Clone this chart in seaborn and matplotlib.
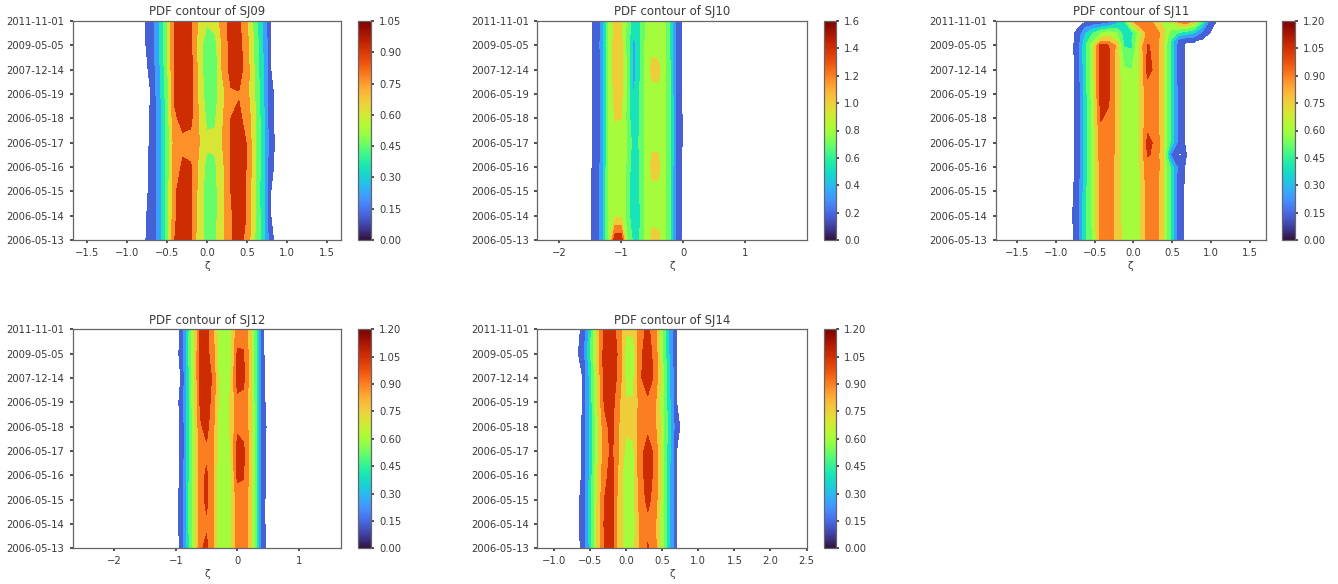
import numpy as np
import matplotlib
matplotlib.use('Agg')
import matplotlib.pyplot as plt
import seaborn as sns
from matplotlib.cm import ScalarMappable
from matplotlib.colors import Normalize

# --- 1. Values ---

date_labels = ['2006-05-13', '2006-05-14', '2006-05-15', '2006-05-16', '2006-05-17',
               '2006-05-18', '2006-05-19', '2007-12-14', '2009-05-05', '2011-11-01']
date_pos = [0, 1, 2, 3, 4, 5, 6, 7, 8, 9]

zeta_09 = [-0.8, -0.7, -0.6, -0.5, -0.4, -0.3, -0.2, -0.1, 0.0, 0.1, 0.2, 0.3, 0.4, 0.5, 0.6, 0.7, 0.8, 0.9]
pdf_09 = [
    [0, .05, .20, .50, .90, 1.0, .92, .65, .57, .58, .72, .87, .98, .84, .60, .38, .03, 0],
    [0, .04, .20, .50, .88, .98, .92, .68, .53, .55, .72, .88, .98, .89, .62, .36, .02, 0],
    [0, .03, .20, .50, .88, .97, .92, .70, .53, .55, .72, .90, .98, .88, .62, .35, .02, 0],
    [0, .03, .20, .50, .84, .92, .91, .72, .55, .57, .72, .90, 1.0, .89, .63, .36, .03, 0],
    [0, .025, .20, .50, .82, .87, .86, .76, .63, .63, .76, .91, 1.0, .89, .63, .37, .035, 0],
    [0, .025, .20, .50, .88, .94, .93, .74, .57, .58, .74, .90, .93, .85, .62, .36, .03, 0],
    [0, .02, .22, .52, .92, .98, .95, .72, .52, .54, .70, .88, .89, .80, .60, .33, .03, 0],
    [0, .03, .25, .55, .93, .99, .95, .70, .50, .52, .78, .95, .97, .82, .58, .32, .02, 0],
    [0, .05, .27, .58, .93, .99, .93, .68, .50, .54, .78, .96, .96, .80, .56, .30, .02, 0],
    [0, .05, .28, .58, .92, .99, .92, .72, .62, .66, .82, .96, .93, .76, .54, .28, .01, 0],
]

zeta_10 = [-1.6, -1.5, -1.4, -1.3, -1.2, -1.1, -1.0, -0.9, -0.8, -0.7, -0.6, -0.5, -0.4, -0.3, -0.2, -0.1, 0.0]
pdf_10 = [
    [0, 0, .09, .30, .85, 1.55, 1.55, .78, .55, .60, .85, 1.05, 1.05, .84, .58, .07, 0],
    [0, 0, .12, .30, .85, .95, .95, .72, .38, .58, .85, .95, .93, .84, .58, .07, 0],
    [0, 0, .08, .30, .85, .93, .93, .74, .38, .60, .87, .96, .95, .84, .58, .07, 0],
    [0, 0, .07, .30, .85, .93, .93, .76, .39, .60, .88, 1.05, 1.05, .85, .58, .09, 0],
    [0, 0, .06, .28, .85, .93, .93, .78, .50, .62, .88, .97, .96, .85, .60, .12, 0],
    [0, 0, .06, .28, .85, 1.01, 1.0, .74, .39, .60, .86, .93, .93, .84, .60, .12, 0],
    [0, 0, .07, .28, .85, 1.06, 1.05, .74, .38, .60, .85, .95, .95, .85, .58, .09, 0],
    [0, 0, .06, .28, .85, 1.10, 1.06, .74, .30, .58, .87, 1.05, 1.05, .85, .58, .07, 0],
    [0, 0, .07, .30, .85, 1.08, 1.05, .72, .32, .56, .85, .95, .93, .83, .55, .07, 0],
    [0, 0, .06, .28, .85, 1.05, 1.02, .74, .50, .58, .82, .90, .90, .82, .55, .07, 0],
]

# SJ11 needs a few rows between the dates for the notch and the top corner
pos_11 = [0, 1, 2, 3, 3.5, 4, 5, 6, 7, 8, 8.2, 8.5, 9]
zeta_11 = [-0.82, -0.72, -0.62, -0.52, -0.42, -0.32, -0.22, -0.12, -0.02, 0.08,
           0.18, 0.28, 0.38, 0.48, 0.58, 0.68, 0.78, 0.88, 0.98, 1.08]
pdf_11 = [
    [0, .04, .42, .62, .95, 1.0, .85, .70, .66, .72, .95, 1.0, .75, .42, .06, 0, 0, 0, 0, 0],
    [0, .05, .42, .63, .95, 1.0, .84, .68, .65, .72, .95, 1.0, .76, .42, .06, 0, 0, 0, 0, 0],
    [0, .04, .40, .64, .95, 1.0, .84, .68, .65, .72, .96, 1.0, .76, .42, .06, 0, 0, 0, 0, 0],
    [0, .03, .36, .64, .97, 1.02, .84, .68, .65, .74, 1.0, 1.02, .78, .42, .09, 0, 0, 0, 0, 0],
    [0, .03, .35, .64, .98, 1.02, .85, .68, .65, .74, 1.06, 1.03, .76, .14, .012, .021, 0, 0, 0, 0],
    [0, .03, .35, .64, .98, 1.03, .85, .68, .65, .74, 1.08, 1.03, .78, .42, .09, 0, 0, 0, 0, 0],
    [0, .03, .36, .66, 1.06, 1.02, .85, .68, .65, .74, 1.0, 1.0, .76, .42, .10, 0, 0, 0, 0, 0],
    [0, .03, .38, .68, 1.12, 1.08, .85, .68, .65, .74, 1.0, 1.0, .76, .42, .09, 0, 0, 0, 0, 0],
    [0, .03, .40, .70, 1.14, 1.08, .85, .62, .60, .76, 1.08, 1.03, .76, .42, .07, 0, 0, 0, 0, 0],
    [0, .04, .42, .70, 1.12, 1.06, .87, .44, .42, .78, 1.06, 1.02, .76, .42, .07, 0, 0, 0, 0, 0],
    [0, .03, .36, .58, .82, .85, .74, .40, .45, .72, 1.0, 1.0, .78, .45, .10, .03, .03, 0, 0, 0],
    [0, .03, .28, .45, .60, .68, .62, .38, .40, .68, .95, 1.0, .82, .55, .42, .35, .28, .12, .02, 0],
    [0, 0, 0, 0, 0, .04, .20, .42, .88, 1.06, 1.0, .82, .70, .72, .95, 1.06, .85, .50, .12, 0],
]

zeta_12 = [-1.0, -0.9, -0.8, -0.7, -0.6, -0.5, -0.4, -0.3, -0.2, -0.1, 0.0, 0.1, 0.2, 0.3, 0.4, 0.5]
pdf_12 = [
    [0, .03, .40, .70, 1.03, 1.08, .92, .66, .63, .73, .98, 1.0, .85, .50, .05, 0],
    [0, .05, .41, .70, .98, 1.03, .92, .66, .62, .72, .98, 1.0, .85, .50, .04, 0],
    [0, .05, .42, .70, .99, 1.08, .92, .66, .62, .72, .98, 1.0, .85, .50, .04, 0],
    [0, .03, .40, .70, 1.0, 1.07, .92, .67, .62, .74, 1.08, 1.06, .86, .50, .05, 0],
    [0, .03, .38, .70, .98, 1.02, .94, .68, .64, .76, 1.09, 1.08, .88, .50, .05, 0],
    [0, .03, .38, .70, 1.03, 1.10, .95, .70, .66, .78, 1.03, 1.0, .86, .50, .06, 0],
    [0, .04, .40, .72, 1.08, 1.12, 1.0, .72, .66, .78, 1.02, 1.0, .85, .50, .04, 0],
    [0, .025, .38, .74, 1.10, 1.13, 1.03, .72, .64, .76, 1.10, 1.09, .85, .48, .035, 0],
    [0, .04, .42, .74, 1.10, 1.10, .97, .68, .62, .72, 1.07, 1.06, .85, .47, .03, 0],
    [0, .03, .40, .72, 1.08, 1.10, .95, .66, .62, .72, .98, 1.0, .84, .47, .03, 0],
]

zeta_14 = [-0.7, -0.6, -0.5, -0.4, -0.3, -0.2, -0.1, 0.0, 0.1, 0.2, 0.3, 0.4, 0.5, 0.6, 0.7, 0.8]
pdf_14 = [
    [0, .03, .34, .78, 1.05, 1.12, .82, .68, .70, .95, 1.06, .95, .65, .32, .02, 0],
    [0, .04, .36, .78, 1.07, 1.12, .82, .66, .68, .93, 1.02, .93, .65, .30, .015, 0],
    [0, .035, .36, .76, 1.05, 1.12, .82, .66, .70, .99, 1.08, 1.0, .65, .30, .01, 0],
    [0, .025, .34, .74, 1.0, 1.12, .84, .66, .70, 1.01, 1.10, 1.02, .65, .32, .02, 0],
    [0, .025, .32, .70, .98, 1.08, .90, .70, .72, 1.01, 1.10, 1.02, .67, .33, .02, 0],
    [0, .025, .32, .70, 1.0, 1.10, .90, .78, .80, .97, 1.02, .93, .68, .36, .035, 0],
    [0, .02, .34, .74, 1.07, 1.12, .92, .76, .76, .97, 1.03, .93, .66, .33, .02, 0],
    [0, .02, .34, .76, 1.12, 1.14, 1.0, .70, .72, 1.04, 1.10, 1.03, .65, .30, .01, 0],
    [0, .05, .42, .78, 1.12, 1.14, 1.02, .66, .68, 1.03, 1.10, 1.01, .63, .28, .005, 0],
    [0, .03, .38, .80, 1.10, 1.12, .98, .78, .78, 1.0, 1.08, .96, .62, .27, 0, 0],
]

# where each filled band sits on the colour map
bands_7 = [0.11, 0.21, 0.34, 0.43, 0.58, 0.73, 0.88]
bands_8 = [0.11, 0.21, 0.33, 0.43, 0.50, 0.63, 0.75, 0.88]

# --- 2. Panel layout in pixels of the 1338x584 picture ---

W, H = 1338, 584
panels = [
    dict(name='SJ09', zeta=zeta_09, pdf=pdf_09, pos=date_pos, box=(72.7, 21, 341.3, 240), cbox=(358.3, 370.7),
         xlim=(-1.675, 1.68), xticks=[-1.5, -1.0, -0.5, 0.0, 0.5, 1.0, 1.5], step=0.15, vmax=1.05, bands=bands_7),
    dict(name='SJ10', zeta=zeta_10, pdf=pdf_10, pos=date_pos, box=(537.3, 21, 807.3, 240), cbox=(824, 836),
         xlim=(-2.355, 2.006), xticks=[-2, -1, 0, 1], step=0.2, vmax=1.6, bands=bands_8),
    dict(name='SJ11', zeta=zeta_11, pdf=pdf_11, pos=pos_11, box=(995.7, 21, 1265.7, 240), cbox=(1282, 1295),
         xlim=(-1.77, 1.70), xticks=[-1.5, -1.0, -0.5, 0.0, 0.5, 1.0, 1.5], step=0.15, vmax=1.2, bands=bands_8),
    dict(name='SJ12', zeta=zeta_12, pdf=pdf_12, pos=date_pos, box=(72.7, 329.3, 341.3, 548.3), cbox=(358.3, 370.7),
         xlim=(-2.675, 1.69), xticks=[-2, -1, 0, 1], step=0.15, vmax=1.2, bands=bands_8),
    dict(name='SJ14', zeta=zeta_14, pdf=pdf_14, pos=date_pos, box=(537.3, 329.3, 807.3, 548.3), cbox=(824, 836),
         xlim=(-1.23, 2.51), xticks=[-1.0, -0.5, 0.0, 0.5, 1.0, 1.5, 2.0, 2.5], step=0.15, vmax=1.2, bands=bands_8),
]

# --- 3. Figure ---

sns.set_theme(style='ticks', rc={
    'font.family': 'DejaVu Sans',
    'font.size': 7,
    'text.color': '#3a3a3a',
    'axes.labelcolor': '#3a3a3a',
    'axes.edgecolor': '#666666',
    'axes.linewidth': 0.9,
    'xtick.color': '#3a3a3a',
    'ytick.color': '#3a3a3a',
    'xtick.labelsize': 7.2,
    'ytick.labelsize': 7.2,
    'xtick.major.size': 2.5,
    'ytick.major.size': 2.5,
    'xtick.major.pad': 3,
    'ytick.major.pad': 3.5,
})
turbo = sns.color_palette('turbo', as_cmap=True)

fig = plt.figure(figsize=(W / 100, H / 100), dpi=100)


def px_rect(x0, y0, x1, y1):
    return [x0 / W, 1 - y1 / H, (x1 - x0) / W, (y1 - y0) / H]


for p in panels:
    x0, y0, x1, y1 = p['box']
    ax = fig.add_axes(px_rect(x0, y0, x1, y1))
    cax = fig.add_axes(px_rect(p['cbox'][0], y0, p['cbox'][1], y1))

    # lowest level just above zero so the empty part of the grid stays white
    n_bands = int(round(p['vmax'] / p['step']))
    ticks = [round(i * p['step'], 2) for i in range(n_bands + 1)]
    levels = [0.02] + ticks[1:]
    norm = Normalize(0, p['vmax'])

    ax.contourf(p['zeta'], p['pos'], np.array(p['pdf']), levels=levels,
                colors=[turbo(f) for f in p['bands']])
    ax.set_xlim(p['xlim'])
    ax.set_ylim(0, 9)
    ax.set_xticks(p['xticks'])
    ax.set_yticks(date_pos)
    ax.set_yticklabels(date_labels)
    ax.set_xlabel('ζ', fontsize=7.5, labelpad=2.5)
    ax.set_title(f"PDF contour of {p['name']}", fontsize=8.5, pad=4)
    sns.despine(ax=ax, top=False, right=False)

    cb = fig.colorbar(ScalarMappable(norm=norm, cmap=turbo), cax=cax, ticks=ticks)
    cb.ax.set_yticklabels([f'{t:.2f}' if p['step'] == 0.15 else f'{t:.1f}' for t in ticks])
    cb.outline.set_edgecolor('#666666')

fig.savefig('out.png', dpi=100)
